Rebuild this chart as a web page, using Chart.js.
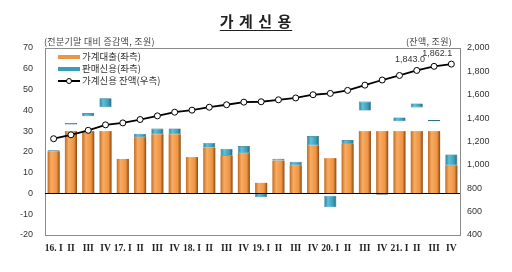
<!DOCTYPE html>
<html>
<head>
<meta charset="utf-8">
<script src="https://cdn.jsdelivr.net/npm/chart.js@4.4.1/dist/chart.umd.min.js"></script>
<style>
  body { margin: 0; background: #fff; }
  #wrap { position: relative; width: 512px; height: 272px; }
  #chart { position: absolute; left: 0; top: 0; }
  .txt { position: absolute; font-family: "Noto Sans CJK KR", sans-serif; color: #444; white-space: nowrap; }
  #title { left: 0; width: 512px; top: 10px; text-align: center; font-size: 15px; font-weight: bold; color: #222; }
  #title span { text-decoration: underline; text-underline-offset: 3px; letter-spacing: 1px; }
  #unitL { left: 44px; top: 35px; font-size: 9px; letter-spacing: 0.3px; }
  #unitR { left: 406px; top: 35px; font-size: 9px; letter-spacing: 0.3px; }
  .leg { position: absolute; left: 58px; font-family: "Noto Sans CJK KR", sans-serif; font-size: 9.5px; color: #333; white-space: nowrap; }
  .sym { display: inline-block; width: 22px; height: 4px; vertical-align: middle; margin-right: 2px; }
  .lsym { display: inline-block; position: relative; width: 22px; height: 2px; background: #000; vertical-align: middle; margin-right: 2px; }
  .lsym i { position: absolute; left: 8px; top: -2px; width: 4px; height: 4px; border: 1px solid #000; border-radius: 50%; background: #fff; }
</style>
</head>
<body>
<div id="wrap">
  <canvas id="chart" width="512" height="272"></canvas>
  <div id="title" class="txt"><span>가 계 신 용</span></div>
  <div id="unitL" class="txt">(전분기말 대비 증감액, 조원)</div>
  <div id="unitR" class="txt">(잔액, 조원)</div>
  <div class="leg" style="top:49px"><span class="sym" style="background:#EE9545"></span>가계대출(좌측)</div>
  <div class="leg" style="top:61px"><span class="sym" style="background:#3A9CB8"></span>판매신용(좌측)</div>
  <div class="leg" style="top:73px"><span class="lsym"><i></i></span>가계신용 잔액(우측)</div>
</div>
<script>
const quarters = ['16. I', 'II', 'III', 'IV', '17. I', 'II', 'III', 'IV', '18. I', 'II', 'III', 'IV',
                  '19. I', 'II', 'III', 'IV', '20. I', 'II', 'III', 'IV', '21. I', 'II', 'III', 'IV'];

// 가계대출 증감 (막대 윗면, 좌축)
const loans = [20.3, 30, 30, 30, 16.6, 27.1, 28.5, 28.5, 17.5, 22.1, 18.2, 19.4,
               5.1, 15.8, 13.6, 23.2, 17.0, 23.8, 30, 30, 30, 30, 30, 13.5];

// 판매신용 막대 구간 (아래 끝, 위 끝)
const salesFrom = [20.3, 33.2, 37.1, 41.5, null, 27.1, 28.5, 28.5, null, 22.1, 18.2, 19.4,
                   -1.8, 15.8, 13.6, 23.2, -6.7, 23.8, 39.9, -0.6, 34.8, 41.4, 34.8, 13.5];
const salesTo = [20.8, 33.9, 38.7, 45.8, null, 28.7, 31.2, 31.3, null, 24.3, 21.5, 22.8,
                 0, 16.7, 15.2, 27.6, -1.1, 25.7, 44.2, 0, 36.6, 43.3, 35.3, 18.8];

// 가계신용 잔액 (우축)
const balance = [1223.7, 1257.3, 1295.8, 1342.5, 1359.1, 1388.1, 1419.3, 1450.9, 1468.2, 1493.2, 1514.4, 1536.7,
                 1540.0, 1556.7, 1572.5, 1600.1, 1611.4, 1637.3, 1682.1, 1726.1, 1765.0, 1808.0, 1843.0, 1862.1];

const leftTicks = { min: -20, max: 70, step: 10 };
const rightTicks = { min: 400, max: 2000, step: 200 };

function barGradient(ctx, stops) {
    const chart = ctx.chart;
    if (!chart.chartArea) return stops[1];
    const x = chart.scales.x.getPixelForValue(ctx.dataIndex);
    const g = chart.ctx.createLinearGradient(x - 6, 0, x + 6, 0);
    g.addColorStop(0, stops[0]);
    g.addColorStop(0.3, stops[1]);
    g.addColorStop(0.75, stops[2]);
    g.addColorStop(1, stops[3]);
    return g;
}

const frame = {
    id: 'frame',
    beforeDatasetsDraw(chart) {
        const { ctx, chartArea: a } = chart;
        ctx.save();
        ctx.strokeStyle = '#8a8a8a';
        ctx.lineWidth = 1;
        ctx.strokeRect(a.left + 0.5, a.top + 0.5, a.right - a.left, a.bottom - a.top);
        ctx.restore();
    },
    afterDatasetsDraw(chart) {
        const { ctx, chartArea: a } = chart;
        const y0 = Math.round(chart.scales.y.getPixelForValue(0)) + 0.5;
        ctx.save();
        ctx.strokeStyle = '#000';
        ctx.lineWidth = 1;
        ctx.beginPath();
        ctx.moveTo(a.left, y0);
        ctx.lineTo(a.right, y0);
        ctx.stroke();
        ctx.restore();
    }
};

// 마지막 두 잔액 값 표시
const endLabels = {
    id: 'endLabels',
    afterDraw(chart) {
        const meta = chart.getDatasetMeta(0);
        const ctx = chart.ctx;
        const spots = [[22, -24, -7], [23, -14, -11]];
        ctx.save();
        ctx.font = '9px "Liberation Sans"';
        ctx.fillStyle = '#333';
        ctx.textAlign = 'center';
        ctx.textBaseline = 'middle';
        spots.forEach(([i, dx, dy]) => {
            const p = meta.data[i];
            const txt = balance[i].toLocaleString('en-US', { minimumFractionDigits: 1, maximumFractionDigits: 1 });
            ctx.fillText(txt, p.x + dx, p.y + dy);
        });
        ctx.restore();
    }
};

new Chart(document.getElementById('chart'), {
    data: {
        labels: quarters,
        datasets: [
            {
                type: 'line',
                label: '가계신용 잔액(우측)',
                data: balance,
                yAxisID: 'y1',
                borderColor: '#000',
                borderWidth: 1.8,
                pointRadius: 3,
                pointBackgroundColor: '#fff',
                pointBorderColor: '#000',
                pointBorderWidth: 1,
                tension: 0,
                order: 0
            },
            {
                type: 'bar',
                label: '판매신용(좌측)',
                data: salesFrom.map((v, i) => v === null ? null : [v, salesTo[i]]),
                yAxisID: 'y',
                grouped: false,
                backgroundColor: ctx => barGradient(ctx, ['#2B7E99', '#5EC0DA', '#3A9CB8', '#1E6179']),
                borderColor: '#2A7088',
                borderWidth: 0.6,
                borderSkipped: false,
                barPercentage: 0.7,
                categoryPercentage: 1,
                order: 1
            },
            {
                type: 'bar',
                label: '가계대출(좌측)',
                data: loans,
                yAxisID: 'y',
                grouped: false,
                backgroundColor: ctx => barGradient(ctx, ['#C46C22', '#F8AC62', '#EE9443', '#8A4812']),
                borderWidth: 0,
                barPercentage: 0.7,
                categoryPercentage: 1,
                order: 2
            }
        ]
    },
    options: {
        responsive: false,
        animation: false,
        layout: { padding: { top: 48 } },
        plugins: {
            legend: { display: false },
            tooltip: { enabled: false }
        },
        scales: {
            x: {
                grid: { display: false, drawTicks: false },
                border: { display: false },
                afterFit: s => { s.height = 37; },
                ticks: {
                    padding: 8,
                    maxRotation: 0,
                    autoSkip: false,
                    color: '#222',
                    font: { family: 'Liberation Serif', size: 9.5, weight: 'bold' }
                }
            },
            y: {
                position: 'left',
                min: leftTicks.min,
                max: leftTicks.max,
                grid: { display: false, drawTicks: false },
                border: { display: false },
                afterFit: s => { s.width = 45; },
                ticks: {
                    stepSize: leftTicks.step,
                    padding: 12,
                    color: '#333',
                    font: { family: 'Liberation Sans', size: 9 }
                }
            },
            y1: {
                position: 'right',
                min: rightTicks.min,
                max: rightTicks.max,
                grid: { display: false, drawTicks: false },
                border: { display: false },
                afterFit: s => { s.width = 52; },
                ticks: {
                    stepSize: rightTicks.step,
                    padding: 7,
                    color: '#333',
                    font: { family: 'Liberation Sans', size: 9 },
                    callback: v => v.toLocaleString('en-US')
                }
            }
        }
    },
    plugins: [frame, endLabels]
});
</script>
</body>
</html>
